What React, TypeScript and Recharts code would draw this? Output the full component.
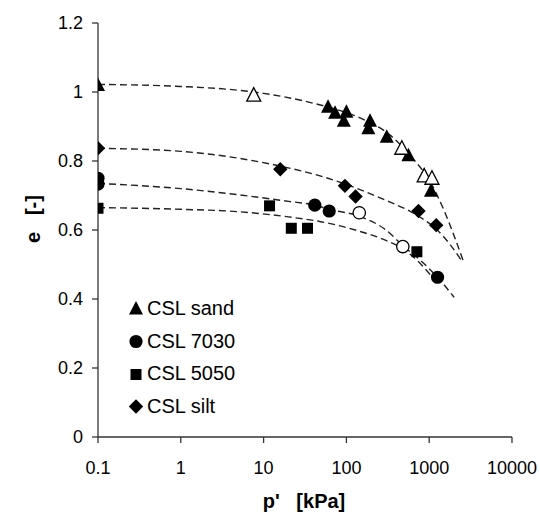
import React from 'react';
import { ComposedChart, Scatter, Line, XAxis, YAxis, Legend, Label } from 'recharts';

const FONT = '"Liberation Sans", Arial, sans-serif';

const xTicks = [0.1, 1, 10, 100, 1000, 10000];
const xTickLabels = ['0.1', '1', '10', '100', '1000', '10000'];
const yTicks = [0, 0.2, 0.4, 0.6, 0.8, 1, 1.2];
const yTickLabels = ['0', '0.2', '0.4', '0.6', '0.8', '1', '1.2'];

// measured points
const sandFilled = [
  { p: 0.1, e: 1.02 }, { p: 60, e: 0.957 }, { p: 73, e: 0.94 }, { p: 93, e: 0.917 },
  { p: 100, e: 0.943 }, { p: 184, e: 0.895 }, { p: 193, e: 0.917 }, { p: 307, e: 0.87 },
  { p: 561, e: 0.817 }, { p: 1050, e: 0.714 },
];
const sandOpen = [
  { p: 7.6, e: 0.991 }, { p: 467, e: 0.837 }, { p: 870, e: 0.757 }, { p: 1079, e: 0.75 },
];
const mix7030Filled = [
  { p: 0.1, e: 0.75 }, { p: 0.1, e: 0.733 }, { p: 41.5, e: 0.672 }, { p: 62, e: 0.655 },
  { p: 1261, e: 0.463 },
];
const mix7030Open = [{ p: 143, e: 0.65 }, { p: 480, e: 0.552 }];
const mix5050 = [
  { p: 0.1, e: 0.663 }, { p: 11.8, e: 0.67 }, { p: 21.6, e: 0.605 }, { p: 33.9, e: 0.605 },
  { p: 710, e: 0.537 },
];
const silt = [
  { p: 0.1, e: 0.837 }, { p: 15.9, e: 0.776 }, { p: 96, e: 0.728 }, { p: 129, e: 0.697 },
  { p: 742, e: 0.655 }, { p: 1216, e: 0.614 },
];

// fitted critical state lines
const sandCurve = [
  { p: 0.1, e: 1.022 }, { p: 1, e: 1.016 }, { p: 5, e: 1.005 }, { p: 10, e: 0.996 },
  { p: 36, e: 0.97 }, { p: 100, e: 0.94 }, { p: 146, e: 0.925 }, { p: 337, e: 0.875 },
  { p: 646, e: 0.805 }, { p: 1000, e: 0.745 }, { p: 1490, e: 0.66 }, { p: 2600, e: 0.508 },
];
const siltCurve = [
  { p: 0.1, e: 0.837 }, { p: 1, e: 0.828 }, { p: 5, e: 0.808 }, { p: 16, e: 0.785 },
  { p: 48, e: 0.757 }, { p: 100, e: 0.732 }, { p: 255, e: 0.693 }, { p: 778, e: 0.637 },
  { p: 1216, e: 0.603 }, { p: 1800, e: 0.557 }, { p: 2400, e: 0.515 },
];
const curve7030 = [
  { p: 0.1, e: 0.735 }, { p: 1, e: 0.72 }, { p: 5, e: 0.702 }, { p: 20, e: 0.683 },
  { p: 41.5, e: 0.672 }, { p: 62, e: 0.66 }, { p: 143, e: 0.64 }, { p: 300, e: 0.6 },
  { p: 480, e: 0.555 }, { p: 800, e: 0.51 }, { p: 1261, e: 0.463 }, { p: 2000, e: 0.405 },
];
const curve5050 = [
  { p: 0.1, e: 0.665 }, { p: 1, e: 0.66 }, { p: 5, e: 0.653 }, { p: 20, e: 0.638 },
  { p: 60, e: 0.62 }, { p: 150, e: 0.595 }, { p: 300, e: 0.57 }, { p: 480, e: 0.545 },
  { p: 800, e: 0.5 }, { p: 1050, e: 0.468 },
];

const legendItems = [
  { label: 'CSL sand', marker: 'triangle' },
  { label: 'CSL 7030', marker: 'circle' },
  { label: 'CSL 5050', marker: 'square' },
  { label: 'CSL silt', marker: 'diamond' },
];

function Marker({ kind, cx, cy, open }: { kind: string; cx: number; cy: number; open?: boolean }) {
  const fill = open ? '#fff' : '#000';
  const stroke = open ? '#000' : 'none';
  const sw = open ? 1.3 : 0;
  if (kind === 'triangle') {
    const pts = `${cx},${cy - 7.5} ${cx - 7},${cy + 6} ${cx + 7},${cy + 6}`;
    return <polygon points={pts} fill={fill} stroke={stroke} strokeWidth={sw} />;
  }
  if (kind === 'circle') {
    return <circle cx={cx} cy={cy} r={open ? 6.2 : 6.6} fill={fill} stroke={stroke} strokeWidth={sw} />;
  }
  if (kind === 'square') {
    return <rect x={cx - 5.5} y={cy - 5.5} width={11} height={11} fill={fill} stroke={stroke} strokeWidth={sw} />;
  }
  const pts = `${cx},${cy - 7.2} ${cx + 7.2},${cy} ${cx},${cy + 7.2} ${cx - 7.2},${cy}`;
  return <polygon points={pts} fill={fill} stroke={stroke} strokeWidth={sw} />;
}

const shapeOf = (kind: string, open?: boolean) => (props: any) => (
  <Marker kind={kind} cx={props.cx} cy={props.cy} open={open} />
);

function LegendBox() {
  return (
    <div style={{ fontFamily: FONT, fontSize: 20, color: '#000' }}>
      {legendItems.map((it) => (
        <div key={it.label} style={{ display: 'flex', alignItems: 'center', height: 32.7 }}>
          <svg width={16} height={16} style={{ marginRight: 3 }}>
            <Marker kind={it.marker} cx={8} cy={8.5} />
          </svg>
          <span style={{ whiteSpace: 'pre' }}>{it.label}</span>
        </div>
      ))}
    </div>
  );
}

const dash = { stroke: '#222', strokeWidth: 1.4, strokeDasharray: '7 4' };

export default function App() {
  return (
    <div style={{ position: 'absolute', left: 0, top: 0, width: 540, height: 514, background: '#fff' }}>
      <ComposedChart
        width={540}
        height={514}
        margin={{ top: 23, right: 28, bottom: 0, left: 0 }}
      >
        <XAxis
          dataKey="p"
          type="number"
          scale="log"
          domain={[0.1, 10000]}
          ticks={xTicks}
          allowDataOverflow
          height={77}
          tickSize={6}
          tickMargin={18}
          tickFormatter={(v: number) => xTickLabels[xTicks.indexOf(v)] ?? String(v)}
          tick={{ fill: '#000', fontSize: 18, fontFamily: FONT }}
          axisLine={{ stroke: '#333', strokeWidth: 1.3 }}
          tickLine={{ stroke: '#333', strokeWidth: 1.3 }}
        >
          <Label
            content={() => (
              <text x={304} y={508} textAnchor="middle" fontFamily={FONT} fontSize={20} fontWeight="bold" fill="#000" style={{ whiteSpace: 'pre' }}>
                {"p'   [kPa]"}
              </text>
            )}
          />
        </XAxis>
        <YAxis
          dataKey="e"
          type="number"
          domain={[0, 1.2]}
          ticks={yTicks}
          allowDataOverflow
          width={98}
          tickSize={6}
          tickMargin={9}
          tickFormatter={(v: number) => yTickLabels[yTicks.indexOf(v)] ?? String(v)}
          tick={{ fill: '#000', fontSize: 18, fontFamily: FONT }}
          axisLine={{ stroke: '#333', strokeWidth: 1.3 }}
          tickLine={{ stroke: '#333', strokeWidth: 1.3 }}
        >
          <Label
            content={() => (
              <text x={33} y={219} transform="rotate(-90 33 219)" textAnchor="middle" dominantBaseline="central" fontFamily={FONT} fontSize={20} fontWeight="bold" fill="#000" style={{ whiteSpace: 'pre' }}>
                {'e   [-]'}
              </text>
            )}
          />
        </YAxis>
        <Legend
          layout="vertical"
          align="center"
          verticalAlign="middle"
          content={() => <LegendBox />}
          wrapperStyle={{ position: 'absolute', left: 128, top: 292, width: 'auto', height: 'auto' }}
        />
        <Line data={sandCurve} dataKey="e" type="monotone" dot={false} activeDot={false} legendType="none" isAnimationActive={false} {...dash} />
        <Line data={siltCurve} dataKey="e" type="monotone" dot={false} activeDot={false} legendType="none" isAnimationActive={false} {...dash} />
        <Line data={curve7030} dataKey="e" type="monotone" dot={false} activeDot={false} legendType="none" isAnimationActive={false} {...dash} />
        <Line data={curve5050} dataKey="e" type="monotone" dot={false} activeDot={false} legendType="none" isAnimationActive={false} {...dash} />
        <Scatter name="CSL sand" data={sandFilled} dataKey="e" shape={shapeOf('triangle')} isAnimationActive={false} />
        <Scatter data={sandOpen} dataKey="e" shape={shapeOf('triangle', true)} isAnimationActive={false} />
        <Scatter name="CSL 7030" data={mix7030Filled} dataKey="e" shape={shapeOf('circle')} isAnimationActive={false} />
        <Scatter data={mix7030Open} dataKey="e" shape={shapeOf('circle', true)} isAnimationActive={false} />
        <Scatter name="CSL 5050" data={mix5050} dataKey="e" shape={shapeOf('square')} isAnimationActive={false} />
        <Scatter name="CSL silt" data={silt} dataKey="e" shape={shapeOf('diamond')} isAnimationActive={false} />
      </ComposedChart>
    </div>
  );
}
